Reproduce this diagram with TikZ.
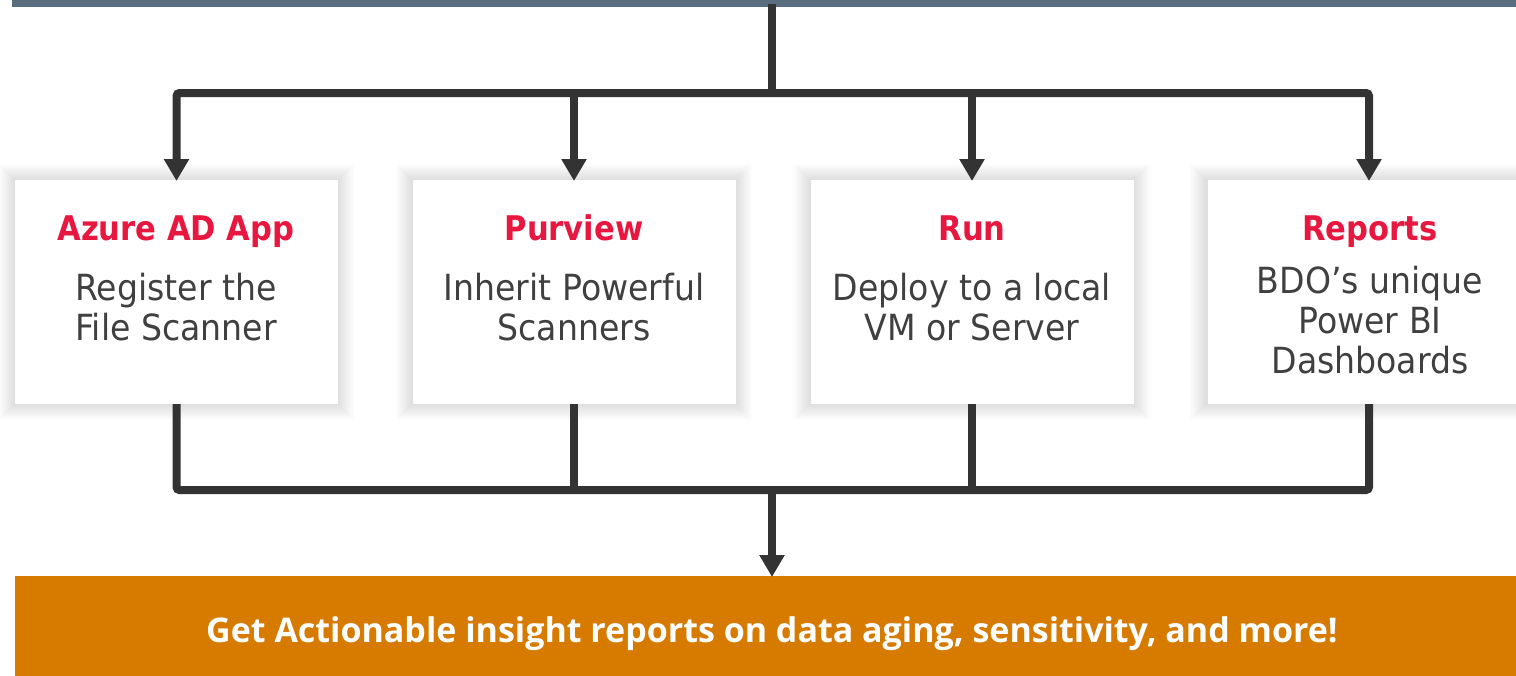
\documentclass[tikz,border=0pt]{standalone}
\usepackage{fontspec}
\setmainfont{DejaVu Sans}
\newfontfamily\boxfont[FakeStretch=0.92]{DejaVu Sans}
\newfontfamily\ttlfont[FakeStretch=0.9]{DejaVu Sans}
\newfontfamily\barfont{Open Sans}
\usetikzlibrary{arrows.meta}
\definecolor{slate}{HTML}{5A6E80}
\definecolor{lineGray}{HTML}{333333}
\definecolor{titleRed}{HTML}{E8173F}
\definecolor{bodyGray}{HTML}{404040}
\definecolor{barOrange}{HTML}{D67A00}
\tikzset{
  x=1pt, y=-1pt,
  conn/.style={draw=lineGray, line width=8pt, rounded corners=3pt},
  arr/.style={conn, -{Triangle[width=24pt,length=22pt]}, shorten >=-1pt},
  card/.style={fill=white, minimum width=323pt, minimum height=224pt, inner sep=0pt, outer sep=0pt},
  ttl/.style={anchor=base, text=titleRed, font=\ttlfont\bfseries\fontsize{34}{40}\selectfont},
  bdy/.style={anchor=base, text=bodyGray, align=center, font=\boxfont\fontsize{36}{40}\selectfont},
}
\newcommand{\cardshadow}[4]{%
  \foreach \s in {1,2,...,16}{
    \fill[black, opacity=0.006] (#1-\s,#2-\s) rectangle (#3+\s,#4+\s);
  }}
\begin{document}
\begin{tikzpicture}
\clip (0,0) rectangle (1516,675);
\fill[white] (0,0) rectangle (1516,675);
% top bar
\fill[slate] (12,0) rectangle (1516,7) node[pos=0.5, inner sep=0] (topbar) {};
\coordinate (split) at (772,93);
% shadows
\cardshadow{15}{180}{338}{404}
\cardshadow{412}{180}{736}{404}
\cardshadow{810}{180}{1134}{404}
\cardshadow{1206}{180}{1532}{404}
% cards
\node[card] (b1) at (176.5,292) {};
\node[card] (b2) at (574,292) {};
\node[card] (b3) at (972,292) {};
\node[card] (b4) at (1369,292) {};
% texts
\node[ttl] (t1) at (176,240) {Azure AD App};
\node[bdy] (d1) at (176,340) {Register the\\File Scanner};
\node[ttl] (t2) at (574,240) {Purview};
\node[bdy] (d2) at (574,340) {Inherit Powerful\\Scanners};
\node[ttl] (t3) at (972,240) {Run};
\node[bdy] (d3) at (972,340) {Deploy to a local\\VM or Server};
\node[ttl] (t4) at (1370,240) {Reports};
\node[bdy] (d4) at (1370,373) {BDO’s unique\\Power BI\\Dashboards};
% bottom bar
\node[fill=barOrange, minimum width=1520pt, minimum height=100pt, inner sep=0pt, anchor=north west] (bar) at (15,576) {};
\node[text=white, font=\barfont\bfseries\fontsize{34}{40}\selectfont, anchor=base] (bartext) at (772,642) {Get Actionable insight reports on data aging, sensitivity, and more!};
% connectors top
\draw[conn] (topbar.south -| split) -- (split);
\draw[arr] (split) -| (b1.north);
\draw[arr] (split) -| (b4.north);
\draw[arr] (b2.north |- split) -- (b2.north);
\draw[arr] (b3.north |- split) -- (b3.north);
% connectors bottom
\coordinate (merge) at (772,490);
\draw[conn] (b1.south) |- (merge);
\draw[conn] (b4.south) |- (merge);
\draw[conn] (b2.south) -- (b2.south |- merge);
\draw[conn] (b3.south) -- (b3.south |- merge);
\draw[arr] (merge) -- (merge |- bar.north);
\end{tikzpicture}
\end{document}
